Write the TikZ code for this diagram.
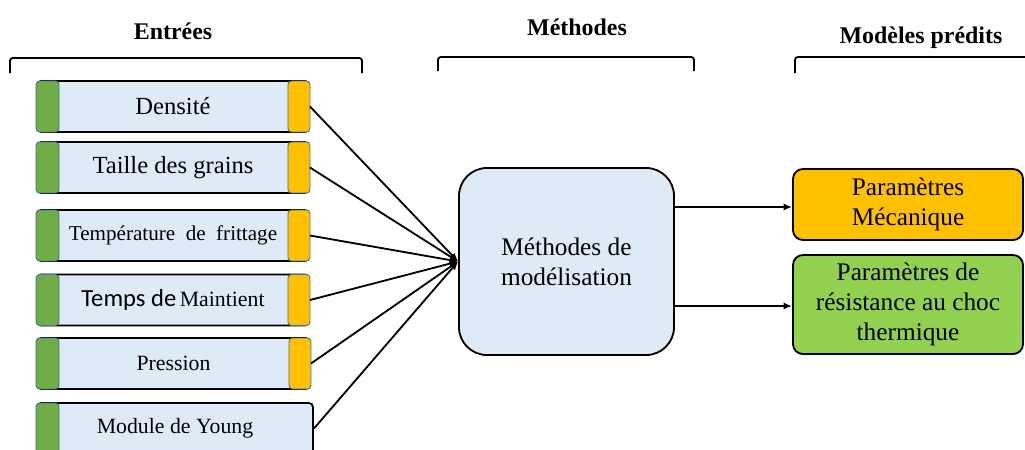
\documentclass[tikz,border=0pt]{standalone}
\usepackage{fontspec}
\setmainfont{Liberation Serif}
\newfontfamily\calibfont{Carlito}
\usepackage{tikz}
\usetikzlibrary{arrows.meta}
\definecolor{boxblue}{HTML}{DEEBF7}
\definecolor{barGreen}{HTML}{70AD47}
\definecolor{barOrange}{HTML}{FFC000}
\definecolor{outGreen}{HTML}{92D050}
\definecolor{barEdge}{HTML}{41719C}

\begin{document}
\begin{tikzpicture}[x=0.025cm, y=-0.025cm,
    inbox/.style={draw, line width=1.3pt, fill=boxblue, rounded corners=3pt,
      minimum width=6.8cm, minimum height=1.275cm, inner sep=0pt},
    gbar/.style={draw=barEdge, line width=0.6pt, fill=barGreen, rounded corners=2.5pt,
      minimum width=0.575cm, minimum height=1.275cm, inner sep=0pt, outer sep=0pt},
    obar/.style={gbar, fill=barOrange, minimum width=0.55cm},
    title/.style={font=\fontsize{17}{20}\selectfont\bfseries},
    bracket/.style={line width=1.3pt, rounded corners=2pt},
    link/.style={line width=1.3pt, -{Latex[length=6pt,width=5pt]}},
    outbox/.style={draw, line width=1.3pt, rounded corners=0.25cm, minimum width=5.75cm,
      align=center, inner sep=0pt, font=\fontsize{18}{21.3}\selectfont}]
  \useasboundingbox (0,0) rectangle (1025,449);

  % headings and brackets
  \node[title] (tin) at (173,31) {Entrées};
  \node[title] (tmeth) at (577,27) {Méthodes};
  \node[title] (tout) at (921,38) {Modèles prédits};
  \draw[bracket] (10,73) -- (10,58) -- (362,58) -- (362,73);
  \draw[bracket] (438,71) -- (438,57) -- (694,57) -- (694,71);
  \draw[bracket] (795,73) -- (795,57) -- (1030,57);

  % central method box
  \node[draw, line width=1.3pt, fill=boxblue, rounded corners=0.7cm,
    minimum width=5.375cm, minimum height=4.675cm, align=center,
    font=\fontsize{18}{21.3}\selectfont] (meth) at (566.5,261.5)
    {Méthodes de\\modélisation};

  % inputs
  \node[inbox] (dens) at (173,106.5) {\fontsize{17.5}{20}\selectfont Densité};
  \node[inbox] (tail) at (173,167.5) {\fontsize{17.5}{20}\selectfont Taille des grains};
  \node[inbox] (temp) at (173,235.5) {\fontsize{15}{18}\selectfont Température\ \ de\ \ frittage};
  \node[inbox] (tmps) at (173,300) {{\calibfont\fontsize{17.5}{20}\selectfont Temps de} {\fontsize{15.5}{18}\selectfont Maintient}};
  \node[inbox, minimum width=6.825cm] (pres) at (173.5,363.5) {\fontsize{15.5}{18}\selectfont Pression};
  \node[inbox, minimum width=6.9cm] (youn) at (175,428.5) {\fontsize{15.5}{18}\selectfont Module de Young};

  \foreach \b in {dens,tail,temp,tmps,pres,youn}
    \node[gbar, anchor=west] (\b g) at (\b.west) {};
  \foreach \b in {dens,tail,temp,tmps,pres}
    \node[obar, anchor=east] (\b o) at (\b.east) {};

  \foreach \b in {dens,tail,temp,tmps,pres}
    \draw[link] (\b o.east) -- (meth.west);
  \draw[link] (youn.east) -- (meth.west);

  % predicted models
  \node[outbox, fill=barOrange, minimum height=1.775cm] (meca) at (908,204.5)
    {Paramètres\\Mécanique};
  \node[outbox, fill=outGreen, minimum height=2.475cm] (choc) at (908,304.5)
    {Paramètres de\\résistance au choc\\thermique};
  \draw[link] (meth.east |- 0,207) -- (meca.west |- 0,207);
  \draw[link] (meth.east |- 0,306) -- (choc.west |- 0,306);
\end{tikzpicture}
\end{document}
